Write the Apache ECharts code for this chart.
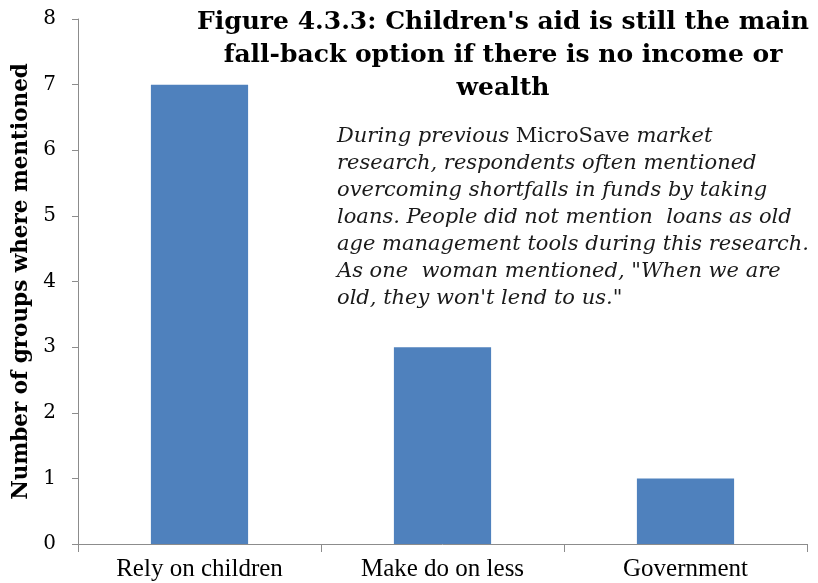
<!DOCTYPE html>
<html>
<head>
<meta charset="utf-8">
<script src="https://cdn.jsdelivr.net/npm/echarts@6/dist/echarts.min.js"></script>
<style>
  html, body { margin: 0; padding: 0; background: #fff; }
  #chart { width: 818px; height: 583px; }
</style>
</head>
<body>
<div id="chart"></div>
<script>
// Fall-back options when there is no income or wealth
const categories = ['Rely on children', 'Make do on less', 'Government'];
const groupCounts = [7, 3, 1];
const yTicks = [0, 1, 2, 3, 4, 5, 6, 7, 8];

const titleLines = [
  "Figure 4.3.3: Children's aid is still the main",
  'fall-back option if there is no income or',
  'wealth'
];

const SERIF = '"DejaVu Serif", "Liberation Serif", serif';

const chart = echarts.init(document.getElementById('chart'));

chart.setOption({
  animation: false,
  backgroundColor: '#ffffff',
  grid: { left: 78, right: 11, top: 19, bottom: 39, containLabel: false, outerBoundsMode: 'none' },
  xAxis: {
    type: 'category',
    data: categories,
    boundaryGap: true,
    axisLine: { lineStyle: { color: '#8c8c8c', width: 1 } },
    axisTick: { show: true, length: 8, alignWithLabel: false, lineStyle: { color: '#8c8c8c' } },
    axisLabel: {
      fontFamily: '"Liberation Serif", serif',
      fontSize: 25,
      color: '#000',
      margin: 13
    }
  },
  yAxis: {
    type: 'value',
    min: yTicks[0],
    max: yTicks[yTicks.length - 1],
    interval: 1,
    name: 'Number of groups where mentioned',
    nameLocation: 'middle',
    nameGap: 44,
    nameTextStyle: {
      fontFamily: SERIF,
      fontWeight: 'bold',
      fontSize: 21.5,
      color: '#000'
    },
    axisLine: { show: true, lineStyle: { color: '#8c8c8c', width: 1 } },
    axisTick: { show: true, length: 6, lineStyle: { color: '#8c8c8c' } },
    splitLine: { show: false },
    axisLabel: {
      fontFamily: SERIF,
      fontSize: 20,
      color: '#000',
      margin: 22
    }
  },
  series: [{
    type: 'bar',
    data: groupCounts,
    barCategoryGap: '60%',
    itemStyle: { color: '#4f81bd' }
  }],
  graphic: [
    {
      type: 'text',
      x: 503,
      y: 6,
      style: {
        text: titleLines.join('\n'),
        fontFamily: SERIF,
        fontWeight: 'bold',
        fontSize: 25,
        lineHeight: 33,
        fill: '#000',
        align: 'center'
      }
    },
    {
      type: 'text',
      x: 337,
      y: 123,
      style: {
        text: '{i|During previous }{n|MicroSave}{i| market}\n' +
              '{i|research, respondents often mentioned}\n' +
              '{i|overcoming shortfalls in funds by taking}\n' +
              '{i|loans. People did not mention  loans as old}\n' +
              '{i|age management tools during this research.}\n' +
              '{i|As one  woman mentioned, "When we are}\n' +
              '{i|old, they won\'t lend to us."}',
        fill: '#1a1a1a',
        rich: {
          i: { fontFamily: SERIF, fontStyle: 'italic', fontSize: 21, lineHeight: 27, fill: '#1a1a1a' },
          n: { fontFamily: SERIF, fontStyle: 'normal', fontSize: 21, lineHeight: 27, fill: '#1a1a1a' }
        }
      }
    }
  ]
});
</script>
</body>
</html>
